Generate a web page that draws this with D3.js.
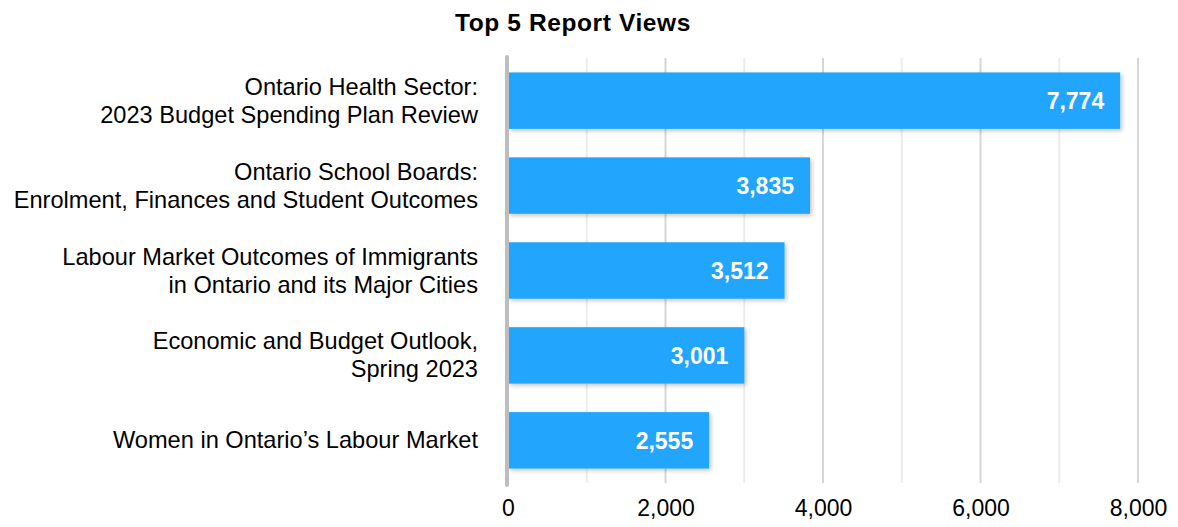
<!DOCTYPE html>
<html lang="en-US">
<head>
  <script src="https://d3js.org/d3.v7.min.js"></script>
  <style>
    body { margin: 0; background: #fff; }
    text { font-family: "Liberation Sans", Arial, sans-serif; }
  </style>
</head>
<body>

<svg width="1178" height="527"></svg>

<script>
var categories = [
  ["Ontario Health Sector:", "2023 Budget Spending Plan Review"],
  ["Ontario School Boards:", "Enrolment, Finances and Student Outcomes"],
  ["Labour Market Outcomes of Immigrants", "in Ontario and its Major Cities"],
  ["Economic and Budget Outlook,", "Spring 2023"],
  ["Women in Ontario\u2019s Labour Market"]
];
var views = [7774, 3835, 3512, 3001, 2555];
var tickValues = [0, 2000, 4000, 6000, 8000];
var gridValues = [1000, 2000, 3000, 4000, 5000, 6000, 7000, 8000];

var svg = d3.select("svg");
var margin = {left: 508, right: 40, top: 58, bottom: 44};
var width = 1178, height = 527;

var x = d3.scaleLinear().domain([0, 8000]).range([margin.left, 1138]);
var y = d3.scaleBand()
  .domain(d3.range(views.length))
  .range([margin.top, height - margin.bottom])
  .paddingInner(0.335)
  .paddingOuter(0.17);

var defs = svg.append("defs");
var f = defs.append("filter").attr("id", "shadow")
  .attr("x", "-5%").attr("y", "-20%").attr("width", "115%").attr("height", "150%");
f.append("feDropShadow").attr("dx", 2).attr("dy", 2).attr("stdDeviation", 2)
  .attr("flood-color", "#000").attr("flood-opacity", 0.22);

// title
svg.append("text")
  .attr("x", 573).attr("y", 31)
  .attr("text-anchor", "middle")
  .attr("font-size", 24.5).attr("font-weight", "bold")
  .attr("letter-spacing", 0.6)
  .attr("fill", "#000")
  .text("Top 5 Report Views");

// gridlines
svg.append("g").selectAll("line")
  .data(gridValues)
  .enter().append("line")
  .attr("x1", d => x(d)).attr("x2", d => x(d))
  .attr("y1", margin.top).attr("y2", height - margin.bottom)
  .attr("stroke", d => d % 2000 === 0 ? "#d6d6d6" : "#ececec")
  .attr("stroke-width", 2);

// bars
svg.append("g").selectAll("rect")
  .data(views)
  .enter().append("rect")
  .attr("x", x(0))
  .attr("y", (d, i) => y(i))
  .attr("width", d => x(d) - x(0))
  .attr("height", y.bandwidth())
  .attr("fill", "#22a6fd")
  .attr("filter", "url(#shadow)");

// value labels
svg.append("g").selectAll("text")
  .data(views)
  .enter().append("text")
  .attr("x", d => x(d) - 16)
  .attr("y", (d, i) => y(i) + y.bandwidth() / 2 + 8.5)
  .attr("text-anchor", "end")
  .attr("font-size", 23).attr("font-weight", "bold")
  .attr("fill", "#fff")
  .text(d => d3.format(",")(d));

// baseline axis line
svg.append("line")
  .attr("x1", x(0) - 1).attr("x2", x(0) - 1)
  .attr("y1", margin.top - 1).attr("y2", height - margin.bottom + 2)
  .attr("stroke", "#bdbdbd").attr("stroke-width", 4)
  .attr("stroke-linecap", "round");

// category labels
var lineH = 28;
var cat = svg.append("g").selectAll("text")
  .data(categories)
  .enter().append("text")
  .attr("text-anchor", "end")
  .attr("font-size", 23.6)
  .attr("fill", "#000");
cat.each(function(lines, i) {
  var t = d3.select(this);
  var cy = y(i) + y.bandwidth() / 2;
  lines.forEach(function(l, j) {
    t.append("tspan")
      .attr("x", 478)
      .attr("y", cy + (j - (lines.length - 1) / 2) * lineH + 8)
      .text(l);
  });
});

// x axis tick labels
var xAxis = d3.axisBottom(x).tickValues(tickValues).tickSize(0).tickPadding(0)
  .tickFormat(d3.format(","));
var ax = svg.append("g")
  .attr("transform", "translate(0," + 500 + ")")
  .call(xAxis);
ax.select(".domain").remove();
ax.selectAll("text")
  .attr("font-size", 23)
  .attr("fill", "#000")
  .attr("font-family", "Liberation Sans, Arial, sans-serif")
  .attr("dy", "0.71em");
</script>
</body>
</html>
